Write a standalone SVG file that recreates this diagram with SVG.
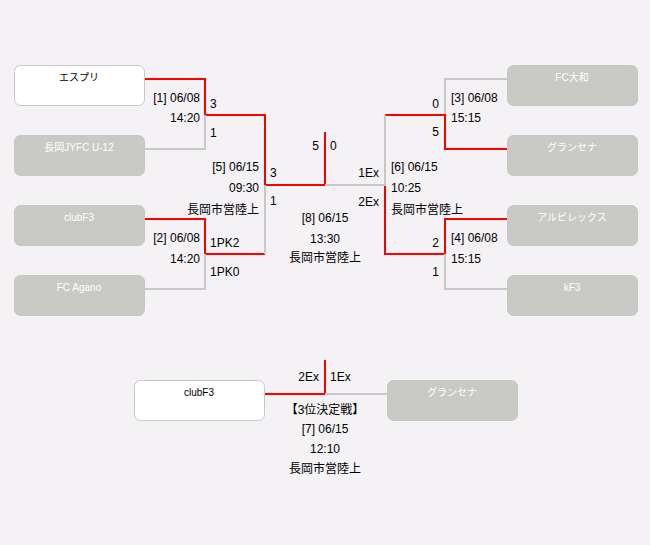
<svg xmlns="http://www.w3.org/2000/svg" width="650" height="545" viewBox="0 0 650 545">
<style>
.bg{fill:#f4f2f5}
.win{fill:#ffffff;stroke:#c8c8c8;stroke-width:1}
.lose{fill:#c9cac6;stroke:#c6c7c3;stroke-width:1}
.tw{font-family:"Liberation Sans","Noto Sans CJK JP",sans-serif;font-size:10px;fill:#000;text-anchor:middle}
.tl{font-family:"Liberation Sans","Noto Sans CJK JP",sans-serif;font-size:10px;fill:#ffffff;text-anchor:middle}
.lab{font-family:"Liberation Sans","Noto Sans CJK JP",sans-serif;font-size:12px;fill:#000}
.r{text-anchor:end}
.m{text-anchor:middle}
.red{fill:none;stroke:#ff0000;stroke-width:2}
.gray{fill:none;stroke:#c8c8c8;stroke-width:2}
</style>
<rect class="bg" x="0" y="0" width="650" height="545"/>
<g id="connectors">
<polyline class="red" points="144,79 205,79 205,115 265,115 265,185 325,185 325,132"/>
<polyline class="gray" points="144,149 205,149 205,115"/>
<polyline class="red" points="144,219 205,219 205,254 265,254"/>
<polyline class="gray" points="144,289 205,289 205,254"/>
<polyline class="gray" points="265,254 265,185"/>
<polyline class="gray" points="507,79 445,79 445,115"/>
<polyline class="red" points="507,149 445,149 445,115 385,115"/>
<polyline class="gray" points="385,115 385,185 325,185"/>
<polyline class="red" points="507,219 445,219 445,254 385,254 385,186"/>
<polyline class="gray" points="507,289 445,289 445,254"/>
<polyline class="red" points="264,394 325,394 325,360"/>
<polyline class="gray" points="325,394 387,394"/>
</g>
<g id="n1"><rect class="win" x="14.5" y="65.5" width="130" height="40" rx="6"/><text class="tw" x="79" y="81">エスプリ</text></g>
<g id="n2"><rect class="lose" x="14.5" y="135.5" width="130" height="40" rx="6"/><text class="tl" x="79" y="151">長岡JYFC U-12</text></g>
<g id="n3"><rect class="lose" x="14.5" y="205.5" width="130" height="40" rx="6"/><text class="tl" x="79" y="221">clubF3</text></g>
<g id="n4"><rect class="lose" x="14.5" y="275.5" width="130" height="40" rx="6"/><text class="tl" x="79" y="291">FC Agano</text></g>
<g id="n5"><rect class="lose" x="507.5" y="65.5" width="130" height="40" rx="6"/><text class="tl" x="572" y="81">FC大和</text></g>
<g id="n6"><rect class="lose" x="507.5" y="135.5" width="130" height="40" rx="6"/><text class="tl" x="572" y="151">グランセナ</text></g>
<g id="n7"><rect class="lose" x="507.5" y="205.5" width="130" height="40" rx="6"/><text class="tl" x="572" y="221">アルビレックス</text></g>
<g id="n8"><rect class="lose" x="507.5" y="275.5" width="130" height="40" rx="6"/><text class="tl" x="572" y="291">kF3</text></g>
<g id="n9"><rect class="win" x="134.5" y="380.5" width="130" height="40" rx="6"/><text class="tw" x="199" y="396">clubF3</text></g>
<g id="n10"><rect class="lose" x="387.5" y="380.5" width="130" height="40" rx="6"/><text class="tl" x="452" y="396">グランセナ</text></g>
<g id="labels">
<text class="lab r" x="200" y="102">[1] 06/08</text>
<text class="lab r" x="200" y="122">14:20</text>
<text class="lab" x="210" y="108">3</text>
<text class="lab" x="210" y="137">1</text>
<text class="lab r" x="259" y="171">[5] 06/15</text>
<text class="lab r" x="259" y="192">09:30</text>
<text class="lab r" x="259" y="214">長岡市営陸上</text>
<text class="lab" x="270" y="177">3</text>
<text class="lab" x="270" y="205">1</text>
<text class="lab r" x="200" y="242">[2] 06/08</text>
<text class="lab r" x="200" y="263">14:20</text>
<text class="lab" x="210" y="247">1PK2</text>
<text class="lab" x="210" y="276">1PK0</text>
<text class="lab r" x="319" y="150">5</text>
<text class="lab" x="330" y="150">0</text>
<text class="lab r" x="379" y="177">1Ex</text>
<text class="lab r" x="379" y="206">2Ex</text>
<text class="lab m" x="325" y="222">[8] 06/15</text>
<text class="lab m" x="325" y="243">13:30</text>
<text class="lab m" x="325" y="262">長岡市営陸上</text>
<text class="lab" x="391" y="171">[6] 06/15</text>
<text class="lab" x="391" y="192">10:25</text>
<text class="lab" x="391" y="214">長岡市営陸上</text>
<text class="lab r" x="439" y="108">0</text>
<text class="lab r" x="439" y="136">5</text>
<text class="lab" x="451" y="102">[3] 06/08</text>
<text class="lab" x="451" y="122">15:15</text>
<text class="lab r" x="439" y="247">2</text>
<text class="lab r" x="439" y="276">1</text>
<text class="lab" x="451" y="242">[4] 06/08</text>
<text class="lab" x="451" y="263">15:15</text>
<text class="lab r" x="319" y="381">2Ex</text>
<text class="lab" x="330" y="381">1Ex</text>
<text class="lab m" x="325" y="414">【3位決定戦】</text>
<text class="lab m" x="325" y="433">[7] 06/15</text>
<text class="lab m" x="325" y="453">12:10</text>
<text class="lab m" x="325" y="473">長岡市営陸上</text>
</g>
</svg>
